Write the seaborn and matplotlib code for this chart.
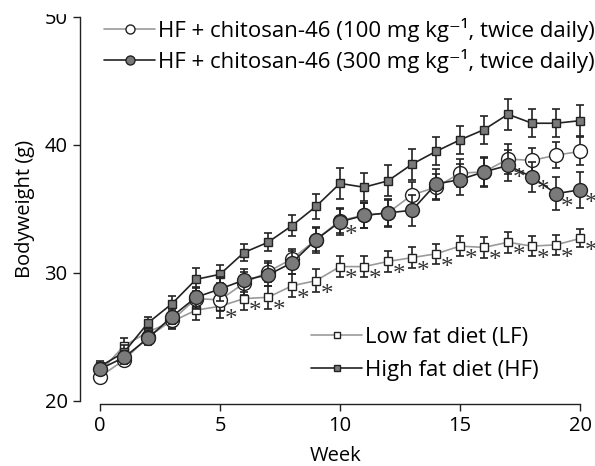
import numpy as np
import pandas as pd
import matplotlib
matplotlib.use('Agg')
import matplotlib.pyplot as plt
from matplotlib.lines import Line2D
from matplotlib.patches import Rectangle
import seaborn as sns

weeks = list(range(21))

hf = [22.7, 23.8, 26.1, 27.6, 29.5, 29.9, 31.6, 32.4, 33.7, 35.2, 37.0, 36.7, 37.2,
      38.5, 39.5, 40.4, 41.2, 42.4, 41.7, 41.7, 41.9]
hf_err = [0.4, 0.6, 0.5, 0.6, 0.9, 0.7, 0.7, 0.7, 0.8, 1.0, 1.2, 1.1, 1.2,
          1.2, 1.1, 1.1, 1.1, 1.2, 1.1, 1.1, 1.2]

lf = [22.3, 24.3, 25.4, 26.2, 27.1, 27.4, 28.0, 28.1, 29.0, 29.4, 30.5, 30.5, 30.9,
      31.2, 31.5, 32.1, 32.0, 32.4, 32.1, 32.2, 32.7]
lf_err = [0.4, 0.6, 0.5, 0.6, 0.8, 0.9, 0.9, 0.9, 0.9, 0.9, 0.8, 0.8, 0.8,
          0.8, 0.8, 0.8, 0.8, 0.8, 0.8, 0.8, 0.7]

c100 = [21.9, 23.2, 25.0, 26.3, 28.0, 27.9, 29.2, 30.1, 31.1, 32.6, 34.1, 34.5, 34.7,
        36.1, 36.7, 37.8, 37.9, 38.9, 38.8, 39.2, 39.5]
c100_err = [0.4, 0.5, 0.5, 0.6, 0.8, 0.9, 0.9, 0.8, 0.8, 0.9, 1.0, 1.0, 1.0,
            1.0, 1.0, 1.1, 1.1, 1.2, 1.0, 1.0, 1.1]

c300 = [22.5, 23.4, 24.9, 26.6, 28.1, 28.75, 29.45, 29.85, 30.8, 32.6, 34.0, 34.5, 34.7,
        34.9, 36.95, 37.3, 37.9, 38.4, 37.5, 36.2, 36.5]
c300_err = [0.4, 0.5, 0.5, 0.6, 0.8, 0.9, 0.9, 0.9, 0.9, 1.0, 1.0, 1.0, 1.1,
            1.2, 1.2, 1.2, 1.2, 1.2, 1.2, 1.3, 1.4]

# weeks marked with an asterisk
lf_sig = list(range(5, 21))
c300_sig = [10, 17, 18, 19, 20]

labels = ['HF + chitosan-46 (100 mg kg\u207b\u00b9, twice daily)',
          'HF + chitosan-46 (300 mg kg\u207b\u00b9, twice daily)',
          'Low fat diet (LF)',
          'High fat diet (HF)']

sns.set_style('ticks')
plt.rcParams['font.family'] = ['Open Sans', 'DejaVu Sans']
plt.rcParams['font.size'] = 15
plt.rcParams['text.color'] = 'black'
plt.rcParams['axes.labelcolor'] = 'black'

fig = plt.figure(figsize=(5.95, 4.66), dpi=100)
ax = fig.add_axes([80 / 595, 65 / 466, 512 / 595, 384 / 466])

dark = '#222222'
lgray = '#9a9a9a'
mgray = '#7a7a7a'

series = [
    (lf, lf_err, lgray, 's', 'white', 6),
    (c100, c100_err, lgray, 'o', 'white', 10),
    (hf, hf_err, dark, 's', mgray, 6),
    (c300, c300_err, dark, 'o', mgray, 10),
]

z = 2
for vals, err, lc, mk, fc, ms in series:
    ax.errorbar(weeks, vals, yerr=err, fmt='none', ecolor=dark, elinewidth=1.2,
                capsize=3, capthick=1.2, zorder=z)
    sns.lineplot(x=weeks, y=vals, ax=ax, color=lc, linewidth=1.2, marker=mk,
                 markersize=ms, markerfacecolor=fc, markeredgecolor=dark,
                 markeredgewidth=1.0, legend=False, zorder=z + 1)
    z += 2

for w in lf_sig:
    ax.annotate('*', (w, lf[w]), xytext=(8, -10), textcoords='offset points',
                ha='center', va='center', fontfamily='Liberation Serif',
                fontsize=18, color='#333333')
for w in c300_sig:
    ax.annotate('*', (w, c300[w]), xytext=(8, -10), textcoords='offset points',
                ha='center', va='center', fontfamily='Liberation Serif',
                fontsize=18, color='#333333')

ax.set_xlim(-20 / 24, 20.5)
ax.set_ylim(20, 50)
ax.set_xticks([0, 5, 10, 15, 20])
ax.set_yticks([20, 30, 40, 50])
ax.spines['right'].set_visible(False)
ax.spines['top'].set_visible(False)
ax.spines['bottom'].set_position(('outward', 2))
ax.spines['bottom'].set_bounds(0, 20)
ax.spines['left'].set_bounds(20, 50)
for s in ['bottom', 'left']:
    ax.spines[s].set_color(dark)
    ax.spines[s].set_linewidth(1.0)
ax.tick_params(length=5, width=1.0, color=dark, labelsize=14.5, labelcolor='black', pad=4)
ax.set_xlabel('Week', fontsize=14.5, labelpad=7)
ax.set_ylabel('Bodyweight (g)', fontsize=14.5, labelpad=7)

h_top = [Line2D([], [], color=lgray, lw=1.2, marker='o', ms=6.5, mfc='white', mec=dark),
         Line2D([], [], color=dark, lw=1.2, marker='o', ms=6.5, mfc=mgray, mec=dark)]
leg1 = fig.legend(h_top, labels[:2], loc='upper left',
                  bbox_to_anchor=(104 / 595, 1 - 18 / 466), frameon=False,
                  handlelength=2.3, handletextpad=0.12, labelspacing=0.3,
                  borderpad=0, borderaxespad=0, fontsize=16)
h_bot = [Line2D([], [], color=lgray, lw=1.2, marker='s', ms=4.5, mfc='white', mec=dark),
         Line2D([], [], color=dark, lw=1.2, marker='s', ms=4.5, mfc=mgray, mec=dark)]
leg2 = fig.legend(h_bot, labels[2:], loc='upper left',
                  bbox_to_anchor=(311 / 595, 1 - 327 / 466), frameon=False,
                  handlelength=2.3, handletextpad=0.12, labelspacing=0.55,
                  borderpad=0, borderaxespad=0, fontsize=16)

fig.add_artist(Rectangle((0, 1 - 13 / 466), 0.12, 13 / 466, transform=fig.transFigure,
                         color='white', zorder=20))

fig.savefig('out.png', dpi=100)
